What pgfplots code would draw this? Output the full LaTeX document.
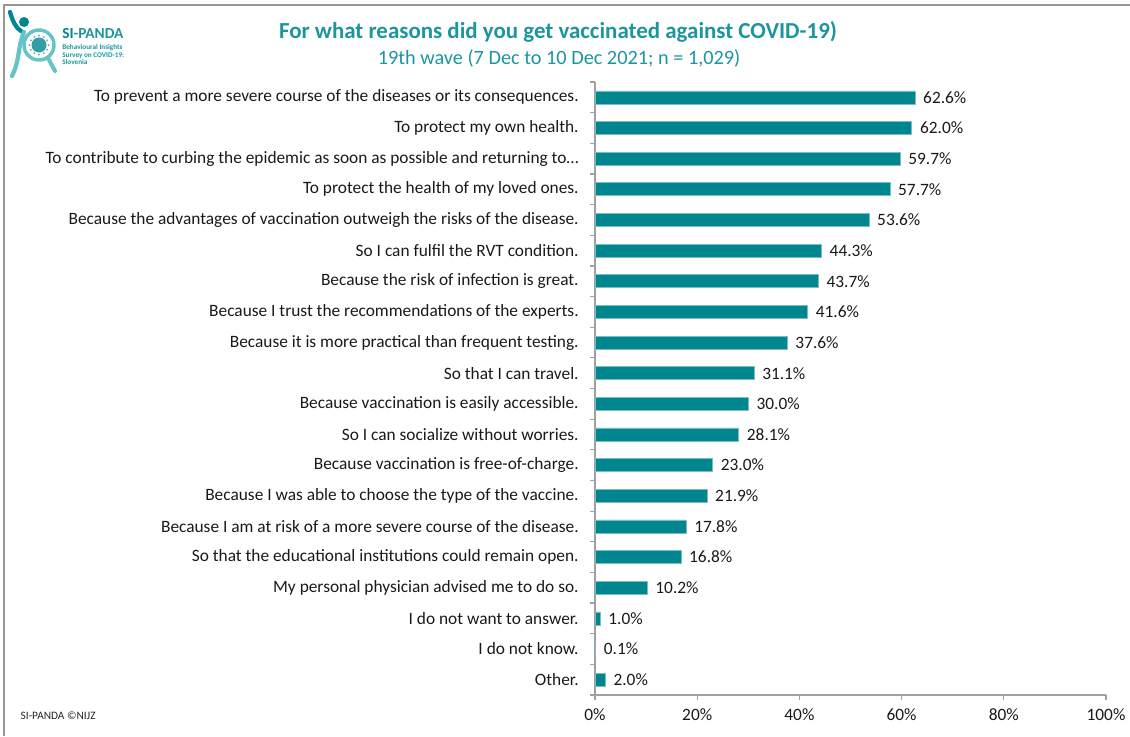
\documentclass[border=0pt]{standalone}
\usepackage{pgfplots}
\pgfplotsset{compat=1.18}
\usepackage{pgfplotstable}
\usepackage{fontspec}
\setmainfont{Carlito}
\definecolor{barT}{RGB}{0,134,143}
\definecolor{barE}{RGB}{120,190,196}
\definecolor{titleT}{RGB}{28,150,158}
\definecolor{logoL}{RGB}{100,196,200}
\definecolor{axgray}{RGB}{160,160,160}
\definecolor{frameG}{RGB}{150,150,150}
\pgfplotstableread{
y v
19 62.6
18 62.0
17 59.7
16 57.7
15 53.6
14 44.3
13 43.7
12 41.6
11 37.6
10 31.1
9 30.0
8 28.1
7 23.0
6 21.9
5 17.8
4 16.8
3 10.2
2 1.0
1 0.1
0 2.0
}\data
\begin{document}
\begin{tikzpicture}
\useasboundingbox (0,0) rectangle (847.5pt,-552pt);
\begin{scope}[x=0.75pt,y=-0.75pt]
\draw[frameG, line width=1.1pt] (4,736) -- (4,5) -- (1130,5);
% logo
\draw[logoL, line width=2.6pt] (39,45) circle (15);
\fill[barT!80] (39,45) circle (7.5);
\foreach \a in {0,30,...,330} {\fill[barT!70] (39,45) ++(\a:9.5) circle (1);}
\draw[logoL, line width=3pt, line cap=round] (48,58) -- (55,71);
\fill[barT] (24,22) circle (5);
\draw[barT, line width=3.2pt, line cap=round] (10,12) .. controls (13,22) and (16,28) .. (21,31);
\draw[logoL, line width=3.2pt, line cap=round] (24,32) .. controls (18,45) and (20,60) .. (12,76);
\node[anchor=base west, inner sep=0pt, font=\fontsize{11.5}{12}\selectfont\bfseries] at (62,38) {\textcolor{barT}{SI}\textcolor{titleT}{-PANDA}};
\node[anchor=base west, inner sep=0pt, font=\fontsize{5.4}{6}\selectfont\bfseries, text=titleT] at (62,49) {Behavioural Insights};
\node[anchor=base west, inner sep=0pt, font=\fontsize{5.4}{6}\selectfont\bfseries, text=titleT] at (62,57) {Survey on COVID-19:};
\node[anchor=base west, inner sep=0pt, font=\fontsize{5.4}{6}\selectfont\bfseries, text=titleT] at (62,64) {Slovenia};
% titles
\node[font=\fontsize{17.2}{19}\selectfont\bfseries, text=titleT] at (558,32) {For what reasons did you get vaccinated against COVID-19)};
\node[font=\fontsize{15.2}{17}\selectfont, text=titleT] at (559,58) {19th wave (7 Dec to 10 Dec 2021; n = 1,029)};
\node[anchor=west, font=\fontsize{8.5}{10}\selectfont, text=black!85] at (16,716) {SI-PANDA ©NIJZ};
\end{scope}
\begin{axis}[
  at={(446.25pt,-521.25pt)}, anchor=south west,
  scale only axis, width=383.25pt, height=459.75pt,
  xbar, bar width=9.75pt,
  xmin=0, xmax=100, ymin=-0.5, ymax=19.5,
  axis x line*=bottom, axis y line*=left,
  axis line style={draw=axgray, line width=0.9pt},
  xtick={0,20,40,60,80,100},
  xticklabels={0\%,20\%,40\%,60\%,80\%,100\%},
  ytick={0,...,19},
  yticklabels={Other.,I do not know.,I do not want to answer.,My personal physician advised me to do so.,So that the educational institutions could remain open.,Because I am at risk of a more severe course of the disease.,Because I was able to choose the type of the vaccine.,Because vaccination is free-of-charge.,So I can socialize without worries.,Because vaccination is easily accessible.,So that I can travel.,Because it is more practical than frequent testing.,Because I trust the recommendations of the experts.,Because the risk of infection is great.,So I can fulfil the RVT condition.,Because the advantages of vaccination outweigh the risks of the disease.,To protect the health of my loved ones.,To contribute to curbing the epidemic as soon as possible and returning to…,To protect my own health.,To prevent a more severe course of the diseases or its consequences.},
  minor ytick={-0.5,0.5,...,19.5},
  tick align=outside,
  major tick length=3.75pt, minor tick length=3.75pt,
  major y tick style={draw=none},
  minor y tick style={draw=axgray, line width=0.9pt},
  major x tick style={draw=axgray, line width=0.9pt},
  ticklabel style={font=\fontsize{13}{15}\selectfont, text=black!90},
  xticklabel style={yshift=-3pt},
  yticklabel style={xshift=-5pt},
  /pgf/number format/assume math mode=true,
  point meta=x,
  nodes near coords={\pgfmathprintnumber[fixed,fixed zerofill,precision=1]{\pgfplotspointmeta}\%},
  nodes near coords style={font=\fontsize{13}{15}\selectfont, text=black!90, inner sep=0pt, xshift=6pt, anchor=west},
  clip=false,
]
\addplot[fill=barT, draw=barE, line width=0.5pt] table[x=v, y=y] {\data};
\end{axis}
\end{tikzpicture}
\end{document}
